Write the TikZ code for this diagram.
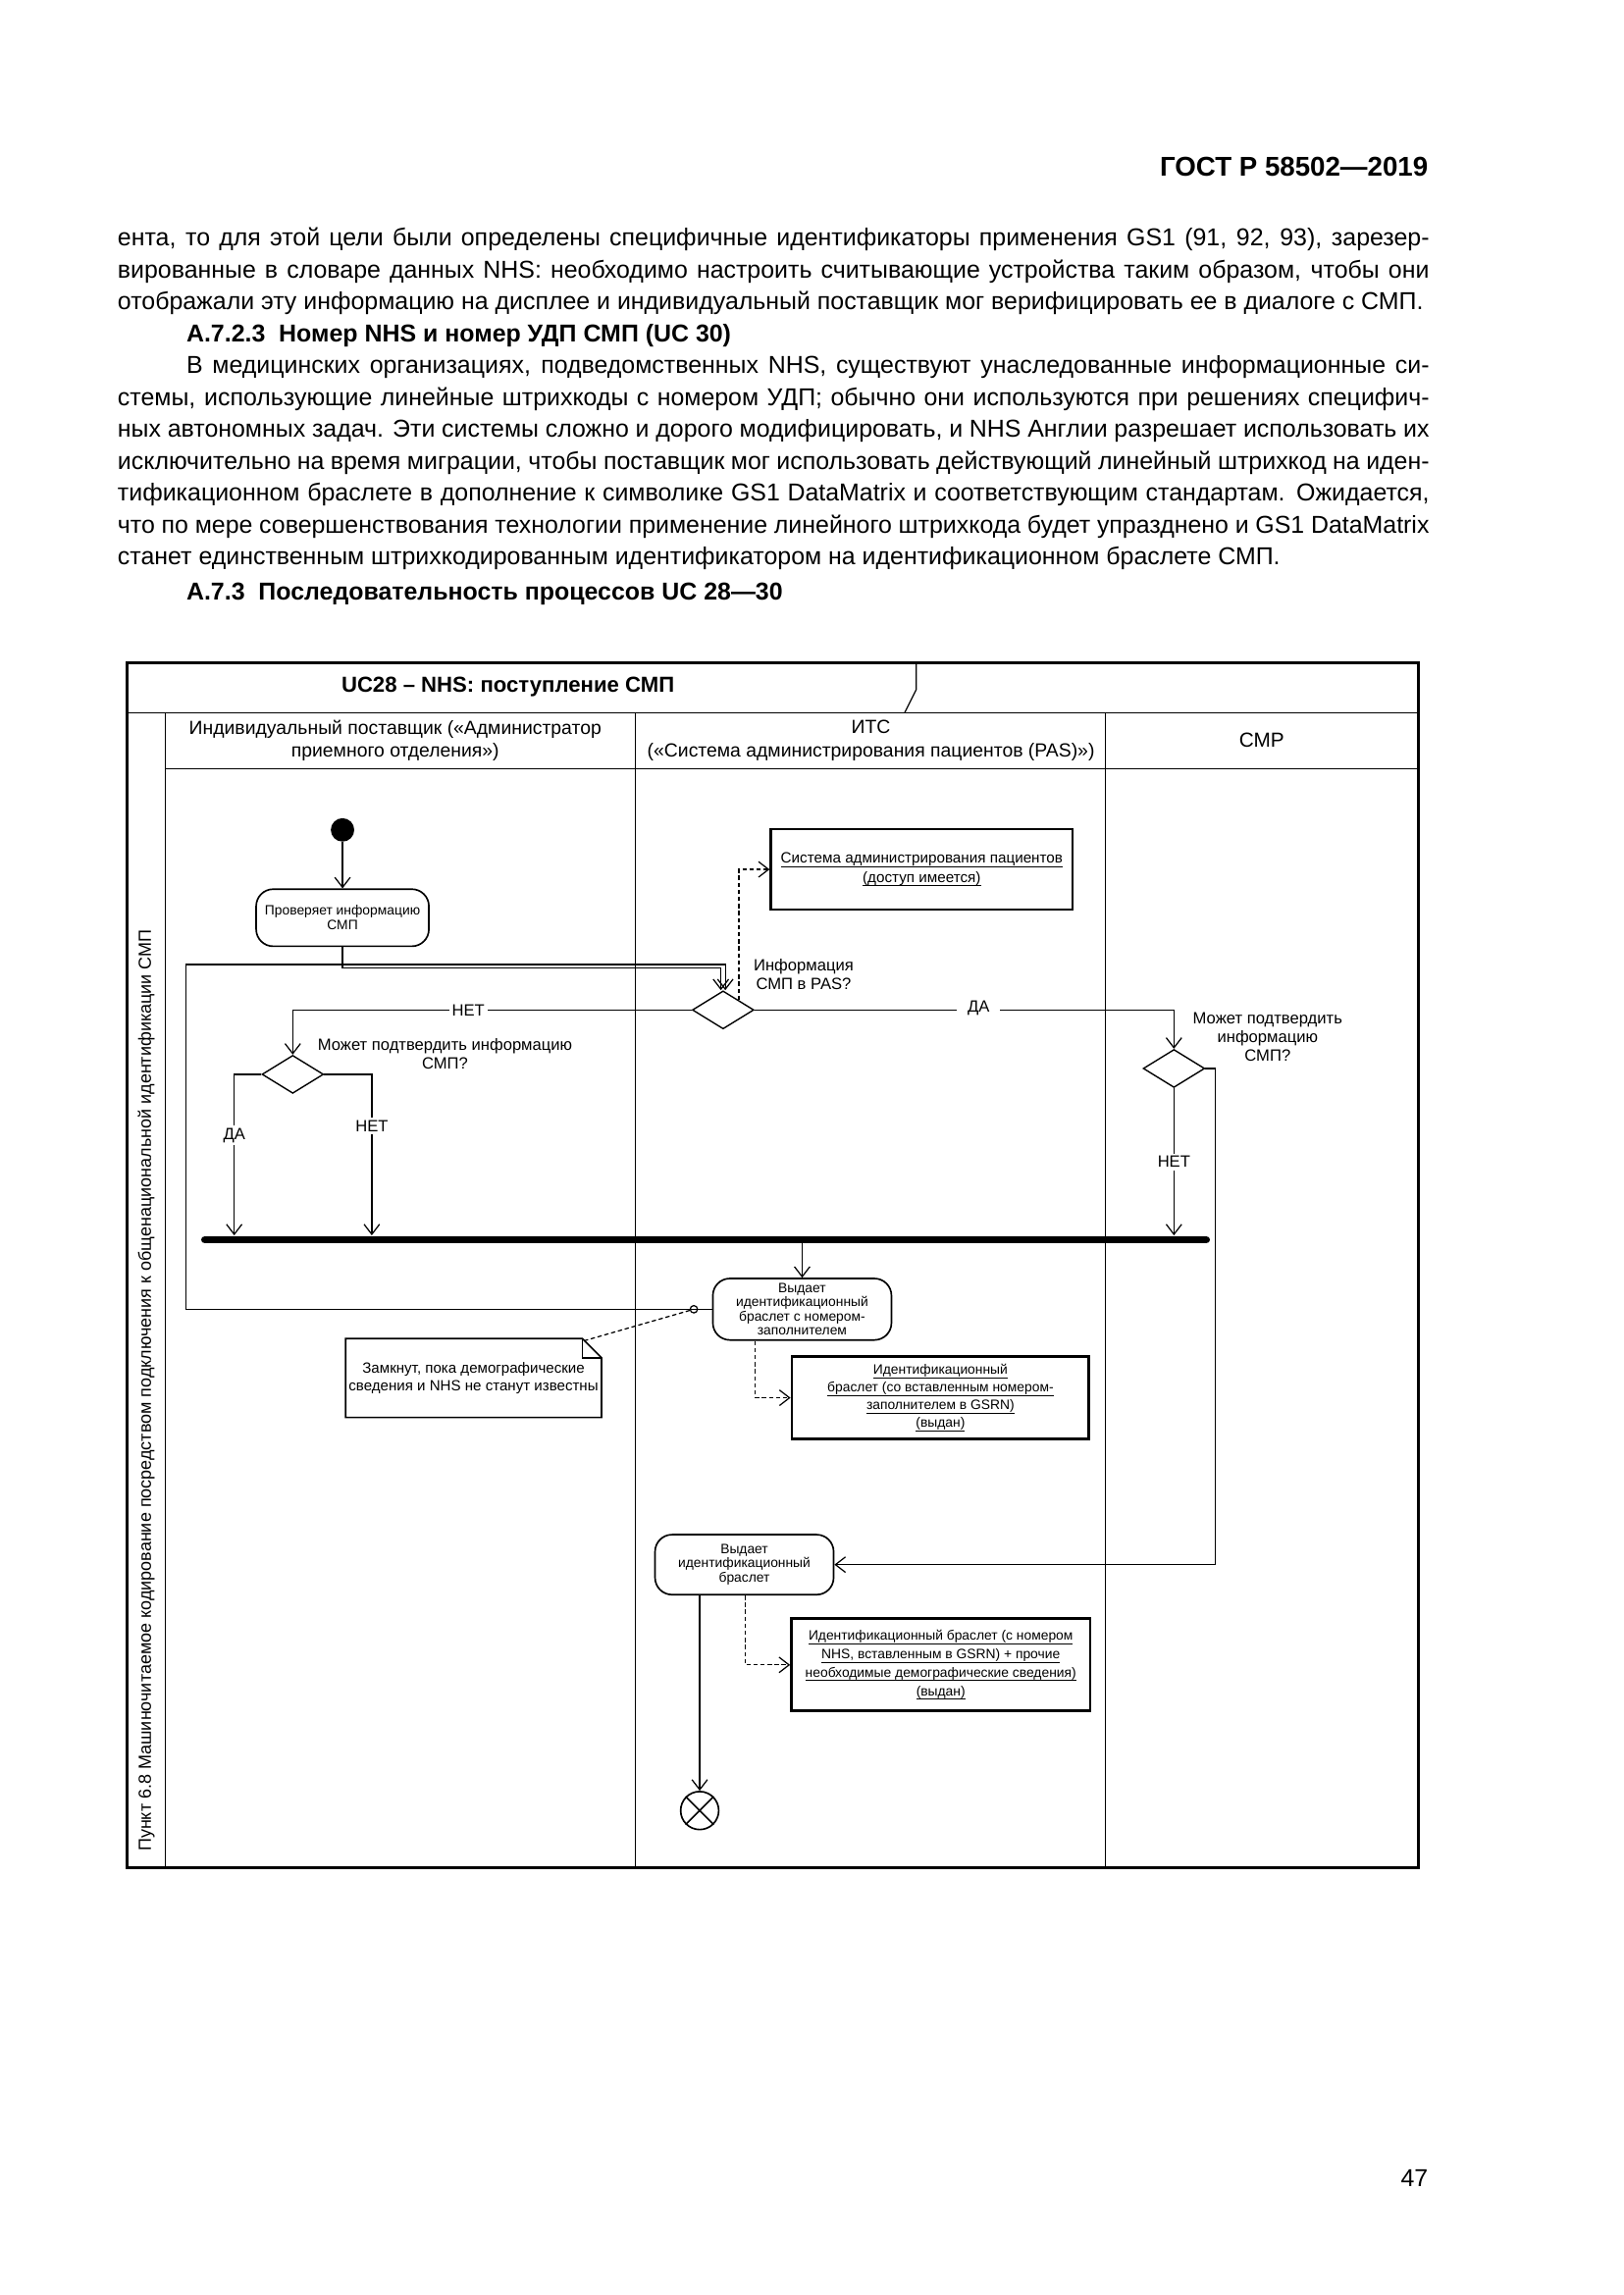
\documentclass[tikz,border=0pt]{standalone}
\usepackage{fontspec}
\setmainfont{Liberation Sans}
\usetikzlibrary{arrows.meta,shapes.geometric,calc}
\newcommand{\myu}{0.18936mm}
\newcommand{\bodyfont}{\fontsize{9}{11}\selectfont}
\newcommand{\undl}[1]{\begingroup\setbox0\hbox{#1}\rlap{\rule[-1.5pt]{\wd0}{0.35pt}}\box0\endgroup}
\begin{document}
\begin{tikzpicture}[x=0.18936mm,y=-0.18936mm,
  every path/.style={line width=0.45pt},
  arr/.style={-{Straight Barb[length=1.3mm,width=2mm]}},
  dsh/.style={dash pattern=on 1.6pt off 1pt},
  darr/.style={arr,dsh},
  bodyline/.style={anchor=base west,inner sep=0,font=\bodyfont},
  action/.style={draw,rounded corners=2.2mm,line width=0.6pt,align=center,inner sep=0,
    font=\fontsize{5}{5.3}\selectfont},
  objbox/.style={draw,line width=1pt,align=center,inner sep=0,
    font=\fontsize{5}{6.6}\selectfont},
  decision/.style={draw,diamond,inner sep=0,minimum width=42*\myu,minimum height=26*\myu,line width=0.5pt},
  lbl/.style={align=center,font=\fontsize{6}{6.9}\selectfont,inner sep=1pt},
  elbl/.style={lbl,fill=white},
  lane/.style={align=center,font=\fontsize{7}{8.6}\selectfont}
]
\useasboundingbox (0,0) rectangle (1109,1568);

% ---------- page text ----------
\node[anchor=base east,inner sep=0,font=\bfseries\fontsize{10}{12}\selectfont] (hdr) at (976,120) {ГОСТ Р 58502—2019};

\node[bodyline] (l1) at (80,168) {\makebox[169.67mm][s]{ента, то для этой цели были определены специфичные идентификаторы применения GS1 (91, 92, 93), зарезер-}};
\node[bodyline] (l2) at (80,189.8) {\makebox[169.67mm][s]{вированные в словаре данных NHS: необходимо настроить считывающие устройства таким образом, чтобы они}};
\node[bodyline] (l3) at (80,211.6) {\makebox[168.9mm][s]{отображали эту информацию на дисплее и индивидуальный поставщик мог верифицировать ее в диалоге с СМП.}};
\node[bodyline,font=\bodyfont\bfseries] (l4) at (127,233.4) {А.7.2.3\ \ Номер NHS и номер УДП СМП (UC 30)};
\node[bodyline] (l5) at (127,255.2) {\makebox[160.77mm][s]{В медицинских организациях, подведомственных NHS, существуют унаследованные информационные си-}};
\node[bodyline] (l6) at (80,277) {\makebox[169.67mm][s]{стемы, использующие линейные штрихкоды с номером УДП; обычно они используются при решениях специфич-}};
\node[bodyline] (l7) at (80,298.8) {\makebox[169.67mm][s]{ных автономных задач. Эти системы сложно и дорого модифицировать, и NHS Англии разрешает использовать их}};
\node[bodyline] (l8) at (80,320.6) {\makebox[169.67mm][s]{исключительно на время миграции, чтобы поставщик мог использовать действующий линейный штрихкод на иден-}};
\node[bodyline] (l9) at (80,342.4) {\makebox[169.67mm][s]{тификационном браслете в дополнение к символике GS1 DataMatrix и соответствующим стандартам. Ожидается,}};
\node[bodyline] (l10) at (80,364.2) {\makebox[169.67mm][s]{что по мере совершенствования технологии применение линейного штрихкода будет упразднено и GS1 DataMatrix}};
\node[bodyline] (l11) at (80,386) {станет единственным штрихкодированным идентификатором на идентификационном браслете СМП.};
\node[bodyline,font=\bodyfont\bfseries] (l12) at (127,410) {А.7.3\ \ Последовательность процессов UC 28—30};

\node[anchor=base east,inner sep=0,font=\bodyfont] (pg) at (976,1494) {47};

% ---------- frame ----------
\draw[line width=1pt] (87,453) rectangle (969,1276);
\draw (87,487) -- (969,487);
\draw (626,453) -- (626,471) -- (618,487);
\draw (113,487) -- (113,1276);
\draw (113,525) -- (969,525);
\draw (434,487) -- (434,1276);
\draw (755,487) -- (755,1276);

\node[font=\bfseries\fontsize{8}{10}\selectfont] (title) at (347,469) {UC28 – NHS: поступление СМП};
\node[lane] (h1) at (270,506) {Индивидуальный поставщик («Администратор\\приемного отделения»)};
\node[lane] (h2) at (595,506) {ИТС\\(«Система администрирования пациентов (PAS)»)};
\node[lane,font=\fontsize{7.5}{9}\selectfont] (h3) at (862,506) {СМР};
\node[rotate=90,font=\fontsize{6.5}{8}\selectfont] (side) at (100,950) {Пункт 6.8 Машиночитаемое кодирование посредством подключения к общенациональной идентификации СМП};

% ---------- nodes ----------
\node[circle,fill=black,minimum size=16*\myu,inner sep=0] (start) at (234,567) {};
\node[action,minimum width=118*\myu,minimum height=39*\myu,font=\fontsize{5}{5.5}\selectfont] (a1) at (234,627) {Проверяет информацию\\СМП};

\node[decision] (d1) at (494,690) {};
\node[lbl] (d1l) at (549,666) {Информация\\СМП в PAS?};
\node[objbox,minimum width=206*\myu,minimum height=55*\myu,font=\fontsize{5.5}{7.2}\selectfont] (o1) at (629.7,594) {\undl{Система администрирования пациентов}\\\undl{(доступ имеется)}};

\node[decision] (d2) at (200,734) {};
\node[lbl] (d2l) at (304,720) {Может подтвердить информацию\\СМП?};

\node[decision] (d3) at (802,730) {};
\node[lbl] (d3l) at (866,708.5) {Может подтвердить\\информацию\\СМП?};

\coordinate (barL) at (140,847);
\coordinate (barR) at (824,847);
\coordinate (b1) at (160,844);
\coordinate (b2) at (254,844);
\coordinate (b3) at (802,844);
\coordinate (bo) at (548,849);
\draw[line width=2.8pt,line cap=round] (barL) -- (barR);

\node[action,minimum width=122*\myu,minimum height=42*\myu,font=\fontsize{5}{5.15}\selectfont] (a2) at (548,894.5) {Выдает\\идентификационный\\браслет с номером-\\заполнителем};
\node[circle,draw,fill=white,minimum size=5*\myu,inner sep=0] (pin) at (474,894.5) {};
\node[objbox,minimum width=203*\myu,minimum height=56*\myu,font=\fontsize{5}{6.5}\selectfont] (oB) at (642.5,955) {\undl{Идентификационный}\\\undl{браслет (со вставленным номером-}\\\undl{заполнителем в GSRN)}\\\undl{(выдан)}};

\node[align=center,inner sep=0,minimum width=174*\myu,minimum height=53*\myu,font=\fontsize{5.45}{6.45}\selectfont] (note) at (323.5,941.5) {Замкнут, пока демографические\\сведения и NHS не станут известны};
\draw[line width=0.6pt] (note.north west) -- ($(note.north east)+(-13,0)$) -- ($(note.north east)+(0,13)$) -- (note.south east) -- (note.south west) -- cycle;
\draw[line width=0.6pt] ($(note.north east)+(-13,0)$) -- ($(note.north east)+(-13,13)$) -- ($(note.north east)+(0,13)$);

\node[action,minimum width=122*\myu,minimum height=41*\myu,font=\fontsize{5}{5.3}\selectfont] (a3) at (508.5,1069) {Выдает\\идентификационный\\браслет};
\node[objbox,minimum width=204*\myu,minimum height=63*\myu,font=\fontsize{5}{6.8}\selectfont] (oC) at (642.7,1137.5) {\undl{Идентификационный браслет (с номером}\\\undl{NHS, вставленным в GSRN) + прочие}\\\undl{необходимые демографические сведения)}\\\undl{(выдан)}};

\node[circle,draw,minimum size=26*\myu,inner sep=0,line width=0.6pt] (end) at (478,1237) {};
\draw[line width=0.6pt] (end.north east) -- (end.south west) (end.north west) -- (end.south east);

% ---------- connectors ----------
\draw[arr] (start) -- (a1);
\draw[arr] (a1.south) |- ($(d1.north)+(-1.5,-15)$) -- ($(d1.north)+(-1.5,0)$);
\coordinate (loopC) at (127,659);
\draw[arr] (a2.west) -| (loopC) -| ($(d1.north)+(1.5,0)$);
\draw[darr] (d1.north east) |- (o1.west);
\draw[arr] (d1.east) -| node[elbl,pos=0.267,inner xsep=4pt,yshift=0.5pt] {ДА} (d3.north);
\draw[arr] (d1.west) -| node[elbl,pos=0.28] {НЕТ} (d2.north);
\draw[arr] (d2.west) -| node[elbl,pos=0.69] {ДА} (b1);
\draw[arr] (d2.east) -| node[elbl,pos=0.66] {НЕТ} (b2);
\draw[arr] (d3.south) -- node[elbl,pos=0.5] {НЕТ} (b3);
\draw[arr] (d3.east) -- ++(7,0) |- (a3.east);
\draw[arr] (bo) -- (a2.north);
\draw[dsh] ($(note.north east)+(-12,1.5)$) -- (pin);
\draw[darr] ($(a2.south)+(-32,0)$) |- (oB.west);
\draw[darr] ($(a3.south)+(0.5,0)$) |- (oC.west);
\draw[arr] ($(a3.south)+(-30.5,0)$) -- (end.north);
\end{tikzpicture}
\end{document}
